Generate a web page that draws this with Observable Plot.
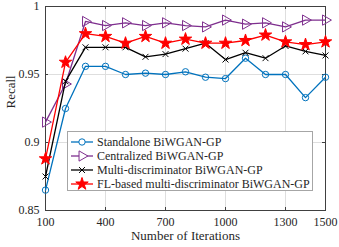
<!DOCTYPE html>
<html><head><meta charset="utf-8">
<script src="https://cdn.jsdelivr.net/npm/d3@7"></script>
<script src="https://cdn.jsdelivr.net/npm/@observablehq/plot@0.6"></script>
<style>
body{margin:0;background:#fff;}
#chart{position:relative;width:339px;height:247px;font-family:"Liberation Serif",Tinos,"Times New Roman",Times,"DejaVu Serif",serif;color:#262626;}
#chart svg text{font-family:"Liberation Serif",Tinos,"Times New Roman",Times,"DejaVu Serif",serif;}
#legend{position:absolute;left:67px;top:131px;width:246px;height:60px;box-sizing:border-box;border:1px solid #a6a6a6;background:#fff;font-size:12px;}
.row{position:absolute;left:2px;height:14px;display:flex;align-items:center;white-space:nowrap;}
.row svg{display:block;margin-right:3px;}
</style></head>
<body><div id="chart"></div>
<script>
const iterations = [100,200,300,400,500,600,700,800,900,1000,1100,1200,1300,1400,1500];
const standalone  = [0.865,0.925,0.956,0.956,0.950,0.951,0.950,0.952,0.948,0.947,0.962,0.950,0.950,0.933,0.948];
const centralized = [0.915,0.943,0.989,0.986,0.988,0.986,0.988,0.986,0.985,0.990,0.987,0.988,0.985,0.990,0.990];
const multiDisc   = [0.875,0.945,0.970,0.970,0.970,0.963,0.965,0.969,0.973,0.961,0.966,0.962,0.971,0.967,0.964];
const flMulti     = [0.888,0.959,0.980,0.978,0.973,0.978,0.973,0.976,0.973,0.973,0.975,0.979,0.974,0.972,0.974];
const seriesNames = ["Standalone BiWGAN-GP","Centralized BiWGAN-GP","Multi-discriminator BiWGAN-GP","FL-based multi-discriminator BiWGAN-GP"];
const xTicks = [100,400,700,1000,1300,1500];
const yTicks = [0.85,0.9,0.95,1];
const xLabel = "Number of Iterations";
const yLabel = "Recall";

const styles = [
  {values: standalone,  color:"#0072BD", symbol:"circle",   r:3.2, fill:"none",    rotate:0},
  {values: centralized, color:"#7E2F8E", symbol:"triangle", r:3.8, fill:"none",    rotate:90},
  {values: multiDisc,   color:"#000000", symbol:"times",    r:2.8, fill:"none",    rotate:0},
  {values: flMulti,     color:"#FF0000", symbol:"star",     r:3.9, fill:"#FF0000", rotate:0}
];

const W = 339, H = 247, mL = 45, mR = 14, mT = 6, mB = 37;
const pw = W - mL - mR, ph = H - mT - mB;
const tickLen = 3, axisColor = "#404040";
const fontStack = '"Liberation Serif",Tinos,"Times New Roman",Times,"DejaVu Serif",serif';

const marks = [
  Plot.gridX(xTicks, {stroke:"#dedede", strokeOpacity:1}),
  Plot.gridY(yTicks, {stroke:"#dedede", strokeOpacity:1}),
  Plot.ruleX(xTicks, {x:d=>d, insetTop: ph - tickLen, stroke: axisColor}),
  Plot.ruleX(xTicks, {x:d=>d, insetBottom: ph - tickLen, stroke: axisColor}),
  Plot.ruleY(yTicks, {y:d=>d, insetRight: pw - tickLen, stroke: axisColor}),
  Plot.ruleY(yTicks, {y:d=>d, insetLeft: pw - tickLen, stroke: axisColor}),
  Plot.frame({stroke: axisColor}),
];
styles.forEach((s, k) => {
  const data = iterations.map((x, i) => ({x, y: s.values[i], name: seriesNames[k]}));
  marks.push(Plot.line(data, {x:"x", y:"y", stroke:s.color, strokeWidth:1.3}));
  marks.push(Plot.dot(data, {x:"x", y:"y", symbol:s.symbol, r:s.r, stroke:s.color, fill:s.fill, strokeWidth:1, rotate:s.rotate}));
});
marks.push(
  Plot.axisX(xTicks, {tickSize:0, tickPadding:7, fontSize:12, label:null, fill:"#262626", tickFormat:d=>String(d)}),
  Plot.axisY(yTicks, {tickSize:0, tickPadding:6, fontSize:12, label:null, fill:"#262626", tickFormat:d=>String(d)}),
  Plot.text([xLabel], {text:d=>d, frameAnchor:"bottom", dy:29, fontSize:13, fill:"#262626"}),
  Plot.text([yLabel], {text:d=>d, frameAnchor:"left", dx:-35, rotate:-90, fontSize:13, fill:"#262626"})
);

const chart = Plot.plot({
  width: W, height: H,
  marginLeft: mL, marginRight: mR, marginTop: mT, marginBottom: mB,
  style: {fontFamily: fontStack, background:"#fff", overflow:"visible"},
  x: {domain:[100,1500]},
  y: {domain:[0.85,1]},
  marks
});
const root = document.getElementById("chart");
root.appendChild(chart);

// legend
const legend = document.createElement("div");
legend.id = "legend";
const symMap = {circle: d3.symbolCircle, triangle: d3.symbolTriangle, times: d3.symbolTimes, star: d3.symbolStar};
styles.forEach((s, k) => {
  const row = document.createElement("div");
  row.className = "row";
  row.style.top = (3 + k * 14) + "px";
  const svg = d3.create("svg").attr("width", 24).attr("height", 14);
  svg.append("line").attr("x1", 1).attr("x2", 23).attr("y1", 7).attr("y2", 7).attr("stroke", s.color).attr("stroke-width", 1.3);
  const area = Math.PI * s.r * s.r;
  svg.append("path").attr("d", d3.symbol(symMap[s.symbol], area)())
    .attr("transform", `translate(12,7) rotate(${s.rotate})`)
    .attr("stroke", s.color).attr("fill", s.fill === "none" ? "#fff" : s.fill).attr("stroke-width", 1);
  row.appendChild(svg.node());
  const span = document.createElement("span");
  span.textContent = seriesNames[k];
  row.appendChild(span);
  legend.appendChild(row);
});
root.appendChild(legend);
</script>
</body></html>
